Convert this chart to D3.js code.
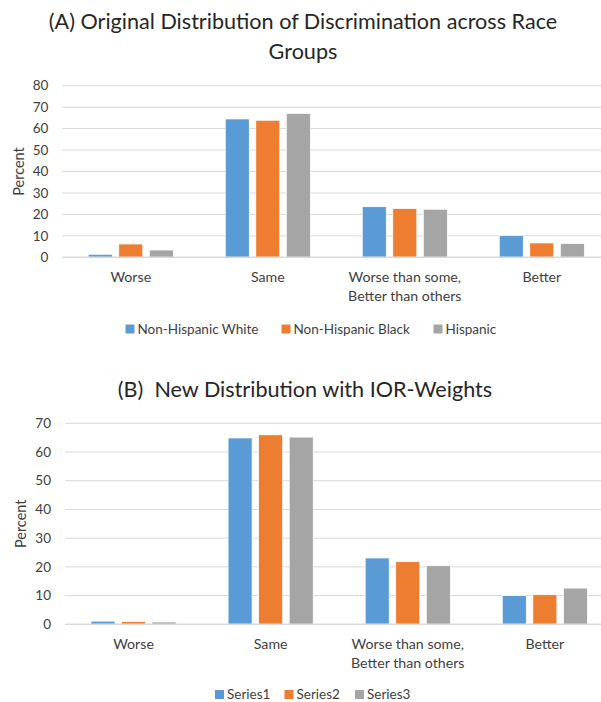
<!DOCTYPE html>
<html>
<head>
<meta charset="utf-8">
<script src="https://cdn.jsdelivr.net/npm/d3@7"></script>
<style>
  html, body { margin: 0; padding: 0; background: #fff; }
  svg { display: block; font-family: Lato, "Open Sans", sans-serif; }
</style>
</head>
<body>
<svg id="chart" width="601" height="702"></svg>
<script>
const categories = ["Worse", "Same", "Worse than some,|Better than others", "Better"];
const colors = ["#5b9bd5", "#ed7d31", "#a5a5a5"];

const seriesA = ["Non-Hispanic White", "Non-Hispanic Black", "Hispanic"];
const valuesA = [
  [1.4, 64.5, 23.6, 10.2],
  [6.2, 63.9, 22.8, 6.7],
  [3.4, 67.1, 22.4, 6.5]
];
const ticksA = [0, 10, 20, 30, 40, 50, 60, 70, 80];

const seriesB = ["Series1", "Series2", "Series3"];
const valuesB = [
  [1.1, 64.9, 23.1, 10.0],
  [1.0, 66.0, 21.8, 10.3],
  [0.8, 65.2, 20.4, 12.6]
];
const ticksB = [0, 10, 20, 30, 40, 50, 60, 70];

const svg = d3.select("#chart");

function drawChart(cfg) {
  const g = svg.append("g");
  cfg.title.forEach((t, i) => {
    g.append("text").attr("x", cfg.titleX).attr("y", cfg.titleY + i * 30)
      .attr("text-anchor", "middle").attr("font-size", 21.6).attr("fill", "#262626")
      .style("white-space", "pre").text(t);
  });
  const x0 = d3.scaleBand().domain(categories).range([cfg.left, cfg.left + 4 * cfg.step]).paddingInner(0).paddingOuter(0);
  const x1 = d3.scaleBand().domain(d3.range(3)).range([0, x0.bandwidth()]).paddingInner(0.213).paddingOuter(0.85);
  const y = d3.scaleLinear().domain([0, cfg.max]).range([cfg.bottom, cfg.top]);

  g.append("g").selectAll("line").data(cfg.ticks.filter(d => d > 0)).join("line")
    .attr("x1", cfg.left).attr("x2", 601)
    .attr("y1", d => y(d)).attr("y2", d => y(d))
    .attr("stroke", "#d9d9d9").attr("stroke-width", 1);
  g.append("g").selectAll("text").data(cfg.ticks).join("text")
    .attr("x", cfg.left - 14).attr("y", d => y(d)).attr("dy", "0.35em")
    .attr("text-anchor", "end").attr("font-size", 13.5).attr("fill", "#404040").text(d => d);
  g.append("text").attr("transform", `translate(${cfg.ylabX},${(cfg.top + cfg.bottom) / 2}) rotate(-90)`)
    .attr("text-anchor", "middle").attr("dy", "0.35em").attr("font-size", 14.5).attr("fill", "#404040").text("Percent");

  cfg.values.forEach((vals, s) => {
    g.append("g").selectAll("rect").data(vals).join("rect")
      .attr("x", (d, i) => x0(categories[i]) + x1(s))
      .attr("width", x1.bandwidth())
      .attr("y", d => y(d)).attr("height", d => cfg.bottom - y(d))
      .attr("fill", colors[s]).attr("stroke", "#fff").attr("stroke-width", 0.75);
  });
  g.append("line").attr("x1", cfg.left).attr("x2", 601).attr("y1", cfg.bottom).attr("y2", cfg.bottom)
    .attr("stroke", "#d9d9d9").attr("stroke-width", 1.5);

  categories.forEach(c => {
    const lines = c.split("|");
    lines.forEach((ln, i) => {
      g.append("text").attr("x", x0(c) + x0.bandwidth() / 2).attr("y", cfg.catY + i * 19)
        .attr("dy", "0.35em").attr("text-anchor", "middle").attr("font-size", 14.2).attr("fill", "#404040").text(ln);
    });
  });

  cfg.series.forEach((s, i) => {
    const lx = cfg.legendX[i];
    g.append("rect").attr("x", lx).attr("y", cfg.legendY - 4.5).attr("width", 9).attr("height", 9).attr("fill", colors[i]);
    g.append("text").attr("x", lx + 12).attr("y", cfg.legendY).attr("dy", "0.35em")
      .attr("font-size", 13.5).attr("fill", "#404040").text(s);
  });
}

drawChart({
  title: ["(A) Original Distribution of Discrimination across Race", "Groups"],
  titleX: 303, titleY: 29,
  left: 62.3, step: 137, top: 85.7, bottom: 257.3, max: 80, ticks: ticksA,
  values: valuesA, series: seriesA, ylabX: 19,
  catY: 277, legendY: 329, legendX: [125.5, 281.5, 433.5]
});

drawChart({
  title: ["(B)  New Distribution with IOR-Weights"],
  titleX: 305, titleY: 397,
  left: 65, step: 137.1, top: 423.3, bottom: 624.3, max: 70, ticks: ticksB,
  values: valuesB, series: seriesB, ylabX: 20.7,
  catY: 644.3, legendY: 694.5, legendX: [215, 284.5, 355]
});
</script>
</body>
</html>
